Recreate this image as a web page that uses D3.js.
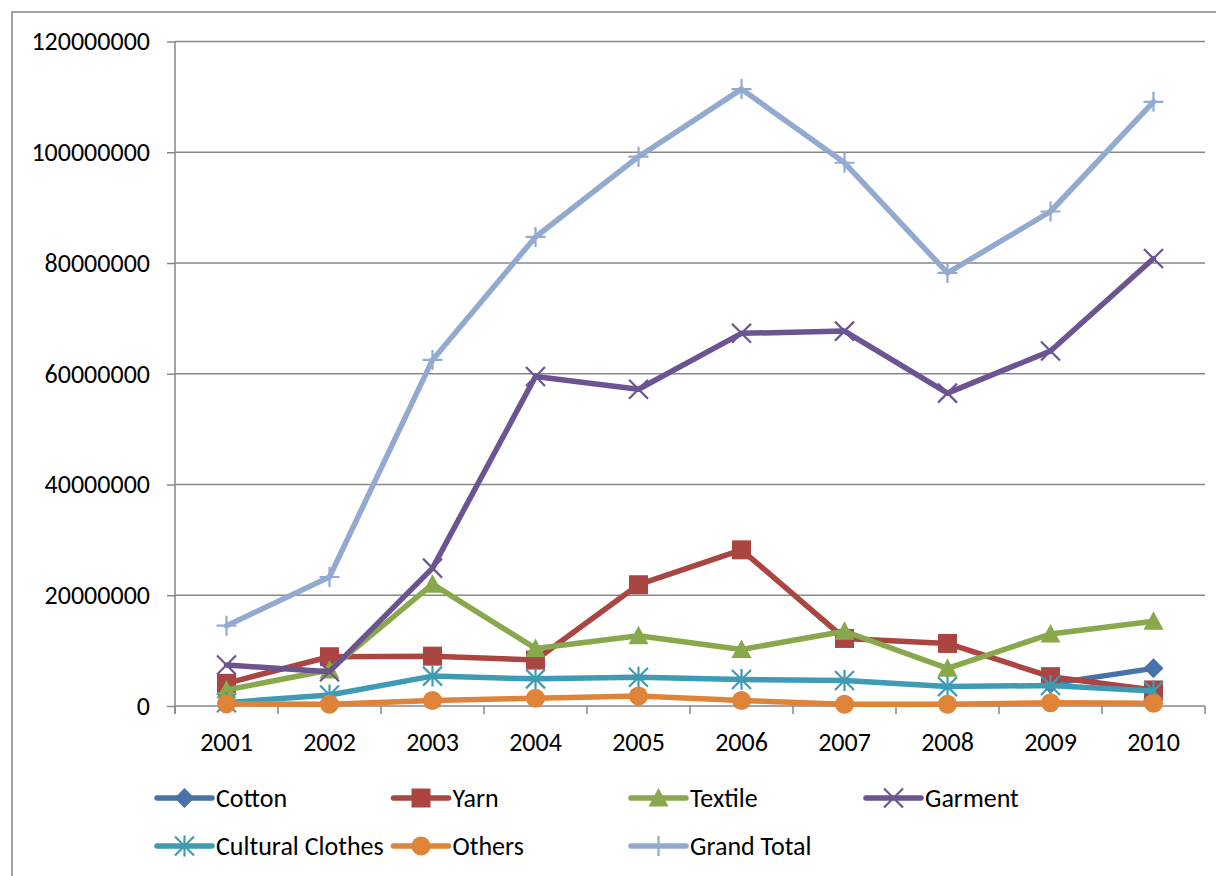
<!DOCTYPE html>
<html>
<head>
<meta charset="utf-8">
<script src="https://cdn.jsdelivr.net/npm/d3@7"></script>
<style>
  html, body { margin: 0; padding: 0; background: #fff; }
  svg { display: block; }
  text { font-family: Carlito, Calibri, Lato, "Open Sans", sans-serif; fill: #000; }
</style>
</head>
<body>
<svg id="chart" width="1216" height="876"></svg>
<script>
// Export values by year
const years = ["2001", "2002", "2003", "2004", "2005", "2006", "2007", "2008", "2009", "2010"];

const cotton          = [null, null, null, null, null, null, null, null, 4000000, 6800000];
const yarn            = [4100000, 8900000, 9000000, 8300000, 21900000, 28200000, 12200000, 11300000, 5300000, 2900000];
const textile         = [2900000, 6500000, 22000000, 10400000, 12700000, 10200000, 13500000, 6800000, 13000000, 15300000];
const garment         = [7400000, 6200000, 24900000, 59500000, 57200000, 67300000, 67700000, 56500000, 64100000, 80800000];
const culturalClothes = [600000, 2000000, 5400000, 4900000, 5200000, 4800000, 4600000, 3500000, 3700000, 2700000];
const others          = [400000, 300000, 1000000, 1400000, 1800000, 1000000, 300000, 300000, 600000, 500000];
const grandTotal      = [14500000, 23300000, 62500000, 84700000, 99200000, 111400000, 98100000, 78200000, 89300000, 109100000];

const seriesNames = ["Cotton", "Yarn", "Textile", "Garment", "Cultural Clothes", "Others", "Grand Total"];
const yTicks = [0, 20000000, 40000000, 60000000, 80000000, 100000000, 120000000];

// Styling per series
const seriesStyle = [
  { color: "#4772AA", marker: "diamond" },
  { color: "#AA4542", marker: "square" },
  { color: "#89A84C", marker: "triangle" },
  { color: "#6C5391", marker: "x" },
  { color: "#3F9BB3", marker: "asterisk" },
  { color: "#DE8338", marker: "circle" },
  { color: "#92AACF", marker: "plus" }
];

const seriesValues = [cotton, yarn, textile, garment, culturalClothes, others, grandTotal];
const series = seriesNames.map((name, i) => ({
  name,
  values: seriesValues[i],
  ...seriesStyle[i]
}));

const svg = d3.select("#chart");
const gray = "#878787";
const fontSize = 26;

// Outer chart frame (runs off the right and bottom edges)
svg.append("rect")
  .attr("x", 12).attr("y", 12)
  .attr("width", 1230).attr("height", 890)
  .attr("fill", "none").attr("stroke", gray).attr("stroke-width", 1.5);

const plot = { left: 175, right: 1205, top: 41.5, bottom: 706 };

const x = d3.scaleBand().domain(years).range([plot.left, plot.right]).paddingInner(0).paddingOuter(0);
const y = d3.scaleLinear().domain([0, 120000000]).range([plot.bottom, plot.top]);

// Horizontal gridlines
svg.append("g")
  .selectAll("line")
  .data(yTicks.filter(d => d > 0))
  .join("line")
  .attr("x1", plot.left).attr("x2", plot.right)
  .attr("y1", d => y(d)).attr("y2", d => y(d))
  .attr("stroke", gray).attr("stroke-width", 1.5);

// Y axis
const yAxis = svg.append("g")
  .attr("transform", `translate(${plot.left},0)`)
  .call(d3.axisLeft(y).tickValues(yTicks).tickFormat(d3.format("d")).tickSize(8).tickPadding(17));
yAxis.select(".domain").remove();
yAxis.selectAll(".tick line").attr("stroke", gray).attr("stroke-width", 1.5);
yAxis.selectAll(".tick text").attr("font-size", fontSize).attr("fill", "#000")
  .style("font-family", "Carlito, Calibri, Lato, sans-serif");
svg.append("line")
  .attr("x1", plot.left).attr("x2", plot.left)
  .attr("y1", plot.top).attr("y2", plot.bottom + 8)
  .attr("stroke", gray).attr("stroke-width", 1.5);

// X axis with tick marks between categories
const xAxisG = svg.append("g").attr("transform", `translate(0,${plot.bottom})`);
xAxisG.append("line")
  .attr("x1", plot.left).attr("x2", plot.right)
  .attr("stroke", gray).attr("stroke-width", 1.5);
const boundaries = years.map(d => x(d)).concat([x(years[years.length - 1]) + x.bandwidth()]);
xAxisG.selectAll("line.tick")
  .data(boundaries)
  .join("line")
  .attr("class", "tick")
  .attr("x1", d => d).attr("x2", d => d)
  .attr("y1", 0).attr("y2", 8)
  .attr("stroke", gray).attr("stroke-width", 1.5);
xAxisG.selectAll("text")
  .data(years)
  .join("text")
  .attr("x", d => x(d) + x.bandwidth() / 2)
  .attr("y", 45)
  .attr("text-anchor", "middle")
  .attr("font-size", fontSize)
  .text(d => d);

// Marker shapes
function markerPath(type, s) {
  const h = s / 2;
  switch (type) {
    case "diamond":
      return `M0,${-h}L${h},0L0,${h}L${-h},0Z`;
    case "square":
      return `M${-h},${-h}H${h}V${h}H${-h}Z`;
    case "triangle":
      return `M0,${-h}L${h},${h * 0.85}L${-h},${h * 0.85}Z`;
    case "circle":
      return d3.symbol(d3.symbolCircle, Math.PI * h * h)();
    case "x":
      return `M${-h},${-h}L${h},${h}M${-h},${h}L${h},${-h}`;
    case "asterisk":
      return `M${-h},${-h}L${h},${h}M${-h},${h}L${h},${-h}M0,${-h * 1.1}V${h * 1.1}`;
    case "plus":
      return `M${-h},0H${h}M0,${-h}V${h}`;
  }
}
const filledMarker = t => ["diamond", "square", "triangle", "circle"].includes(t);

function drawMarker(g, type, color, cx, cy, size) {
  const p = g.append("path")
    .attr("transform", `translate(${cx},${cy})`)
    .attr("d", markerPath(type, size));
  if (filledMarker(type)) {
    p.attr("fill", color).attr("stroke", "none");
  } else {
    p.attr("fill", "none").attr("stroke", color).attr("stroke-width", 2.2);
  }
}

const line = d3.line()
  .defined(d => d.v !== null)
  .x(d => x(d.year) + x.bandwidth() / 2)
  .y(d => y(d.v));

const markerSize = { diamond: 20, square: 19, triangle: 20, circle: 19, x: 19, asterisk: 19, plus: 20 };

series.forEach(s => {
  const g = svg.append("g").attr("class", "series");
  const pts = years.map((yr, i) => ({ year: yr, v: s.values[i] }));
  g.append("path")
    .datum(pts)
    .attr("d", line)
    .attr("fill", "none")
    .attr("stroke", s.color)
    .attr("stroke-width", 5.5)
    .attr("stroke-linejoin", "round")
    .attr("stroke-linecap", "round");
  pts.filter(p => p.v !== null).forEach(p => {
    drawMarker(g, s.marker, s.color, x(p.year) + x.bandwidth() / 2, y(p.v), markerSize[s.marker]);
  });
});

// Legend: two rows of four columns
const legendCols = [157, 393.5, 631, 866];
const legendRows = [798, 846];
const legend = svg.append("g").attr("class", "legend");
series.forEach((s, i) => {
  const cx = legendCols[i % 4];
  const cy = legendRows[Math.floor(i / 4)];
  const g = legend.append("g");
  g.append("line")
    .attr("x1", cx).attr("x2", cx + 55)
    .attr("y1", cy).attr("y2", cy)
    .attr("stroke", s.color).attr("stroke-width", 5.5)
    .attr("stroke-linecap", "round");
  drawMarker(g, s.marker, s.color, cx + 27.5, cy, markerSize[s.marker]);
  g.append("text")
    .attr("x", cx + 59)
    .attr("y", cy)
    .attr("dy", "0.35em")
    .attr("font-size", fontSize)
    .text(s.name);
});
</script>
</body>
</html>
